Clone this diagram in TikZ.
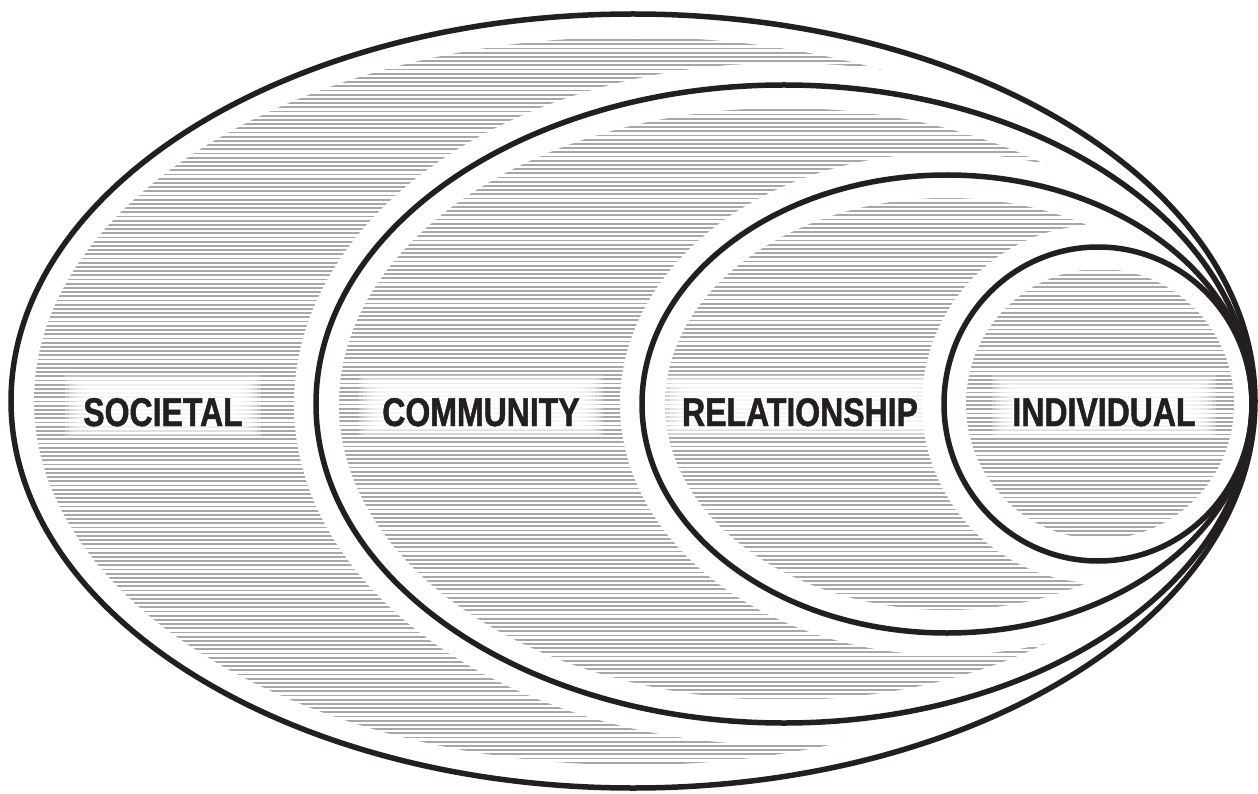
\documentclass[tikz,border=0pt]{standalone}
\usepackage{fontspec}
\newfontfamily\labfont{Liberation Sans}[FakeStretch=0.8,FakeBold=1.2]
\definecolor{ink}{RGB}{35,31,32}
\definecolor{hatch}{RGB}{165,167,171}
\tikzset{
  band/.style={draw=white, line width=44, fill=white},
  outline/.style={draw=ink, line width=5.5},
  hatchline/.style={draw=hatch, line width=1.8},
  lab/.style={font=\labfont\bfseries\fontsize{40}{40}\selectfont, text=ink, inner sep=0, anchor=base},
}
\newcommand\glowbox[4]{%
  \foreach \k in {0,...,6}{%
    \fill[white, fill opacity=0.3] ({#1-#3+\k*4},{#2-#4+\k*2.2}) rectangle ({#1+#3-\k*4},{#2+#4-\k*2.2});
  }%
}
\begin{document}
\begin{tikzpicture}[x=1pt,y=-1pt]
\useasboundingbox (0,0) rectangle (1258,794);
% ring 1 (societal)
\path[band] (633,401) ellipse [x radius=622, y radius=387];
\begin{scope}
  \clip (633,401) ellipse [x radius=599, y radius=364];
  \foreach \yy in {36,40.2,...,768} \draw[hatchline] (30,\yy) -- (1240,\yy);
\end{scope}
% ring 2 (community)
\path[band] (784,404) ellipse [x radius=468, y radius=319];
\begin{scope}
  \clip (784,404) ellipse [x radius=445, y radius=296];
  \foreach \yy in {106.2,110.4,...,702} \draw[hatchline] (330,\yy) -- (1240,\yy);
\end{scope}
% ring 3 (relationship)
\path[band] (947,404) ellipse [x radius=305, y radius=229];
\begin{scope}
  \clip (947,404) ellipse [x radius=282, y radius=206];
  \foreach \yy in {194.4,198.6,...,612} \draw[hatchline] (660,\yy) -- (1240,\yy);
\end{scope}
% ring 4 (individual)
\path[band] (1098,404) ellipse [x radius=154, y radius=157];
\begin{scope}
  \clip (1100,404) ellipse [x radius=134, y radius=135];
  \foreach \yy in {266.4,270.6,...,542} \draw[hatchline] (960,\yy) -- (1240,\yy);
\end{scope}
% label glows
\glowbox{163}{406}{98}{31}
\glowbox{481}{406}{122}{31}
\glowbox{800}{406}{138}{31}
\glowbox{1104}{406}{112}{31}
% labels
\node[lab] (soc) at (163,426) {SOCIETAL};
\node[lab] (com) at (481,426) {COMMUNITY};
\node[lab] (rel) at (800,426) {RELATIONSHIP};
\node[lab] (ind) at (1104,426) {INDIVIDUAL};
% outlines
\draw[outline] (633,401) ellipse [x radius=622, y radius=387];
\draw[outline] (784,404) ellipse [x radius=468, y radius=319];
\draw[outline] (947,404) ellipse [x radius=305, y radius=229];
\draw[outline] (1098,404) ellipse [x radius=154, y radius=157];
\end{tikzpicture}
\end{document}
